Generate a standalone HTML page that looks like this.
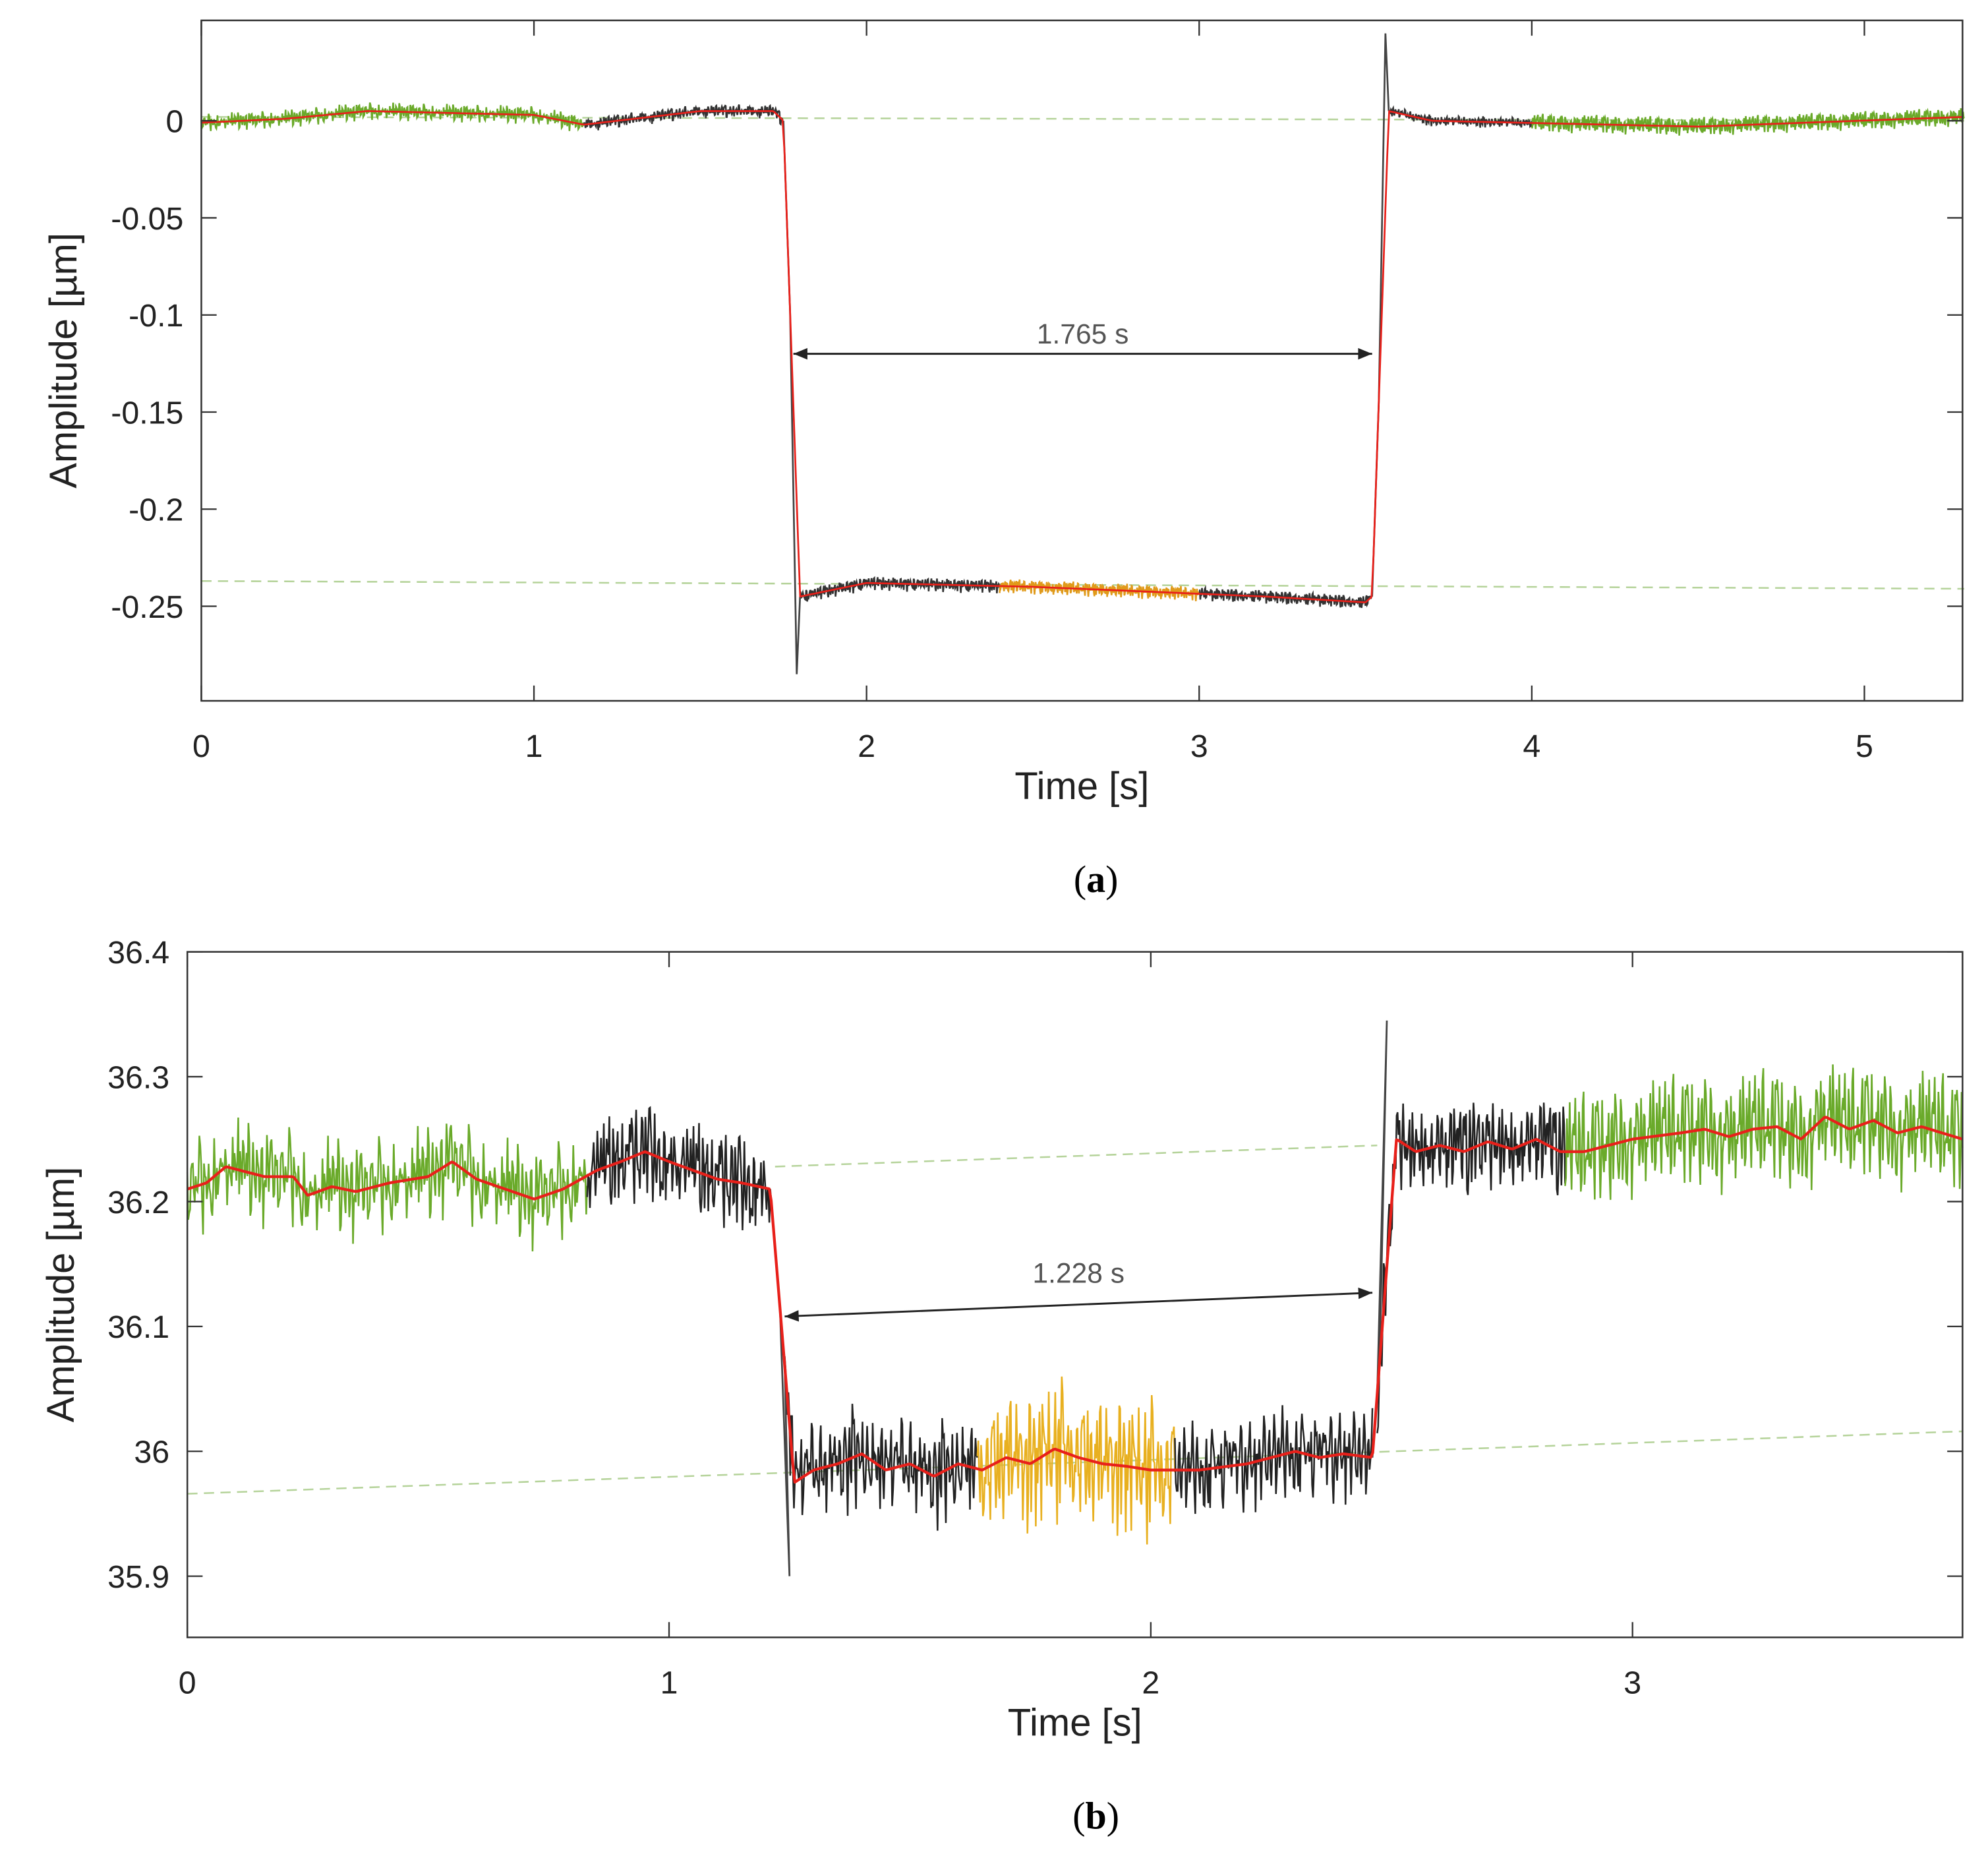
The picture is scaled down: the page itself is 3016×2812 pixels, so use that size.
<!DOCTYPE html>
<html><head><meta charset="utf-8"><style>
html,body{margin:0;padding:0;background:#fff}
svg{display:block}
text{font-family:"Liberation Sans",sans-serif}
</style></head><body>
<svg id="fig" width="3016" height="2812" viewBox="0 0 1560 1455" preserveAspectRatio="none" xmlns="http://www.w3.org/2000/svg">
<rect width="1560" height="1455" fill="#fff"/>
<g id="pa"></g>
<g id="pb"></g>
<text x="860" y="700" text-anchor="middle" font-size="30" style="font-family:'Liberation Serif',serif">(<tspan font-weight="bold">a</tspan>)</text>
<text x="860" y="1435" text-anchor="middle" font-size="30" style="font-family:'Liberation Serif',serif">(<tspan font-weight="bold">b</tspan>)</text>
</svg>
<script>
const noiseTable=[0.3,-0.7,0.9,-0.2,0.5,-0.9,0.1,0.7,-0.4,0.8,-0.6,0.2,-1,0.6,-0.3,0.4,-0.8,1,-0.1,0.5,-0.5,0.9,-0.7,0.3,-0.2,0.6,-0.9,0.1,0.8,-0.4,0.2,-0.6,0.7,-0.3,0.95,-0.85,0.4,-0.1,0.65,-0.75,0.15,0.55,-0.45,0.85,-0.95,0.25,-0.35,0.75,-0.15,0.45,-0.65,0.05,0.9,-0.5,0.35,-0.8,0.6,-0.25,0.7,-0.55,0.2,-0.9,0.5,-0.05,0.8,-0.7,0.3,-0.45,1,-0.6,0.1,0.4,-0.3,0.65,-1,0.55,-0.2,0.75,-0.4,0.15,-0.75,0.9,-0.1,0.35,-0.85,0.6,-0.5,0.25,0.8,-0.65,0.45,-0.15,0.7,-0.35,0.05,-0.95,0.5];

// ---- chart a data ----
const aTicksX=[0,1,2,3,4,5];
const aTicksY=[0,-0.05,-0.1,-0.15,-0.2,-0.25];
const aTickLabelsY=["0","-0.05","-0.1","-0.15","-0.2","-0.25"];
const aLevelT=[0,0.25,0.5,0.75,1,1.15,1.5,1.72,1.75,1.8,2,2.5,3.2,3.5,3.52,3.57,3.7,4.5,5.3];
const aLevelV=[-0.001,0.001,0.005,0.004,0.003,-0.002,0.005,0.005,0.0,-0.245,-0.238,-0.24,-0.245,-0.248,-0.245,0.005,0.0,-0.003,0.002];
const aSegStart=[0,1.15,1.8,2.4,3.0,3.57,4.0];
const aSegEnd=[1.15,1.75,2.4,3.0,3.52,4.0,5.3];
const aSegColor=["#6aaa2a","#333","#333","#e09a1a","#333","#333","#6aaa2a"];
const aSegNoise=[0.005,0.004,0.004,0.004,0.004,0.003,0.005];
const aSpikeT=[1.79,3.56];
const aSpikeV=[-0.285,0.045];
const aDash1=[[0,0.002],[5.3,0.0]];
const aDash2=[[0,-0.237],[5.3,-0.241]];
const aArrow=[[1.78,-0.12],[3.52,-0.12]];
const aArrowLabel="1.765 s";

// ---- chart b data ----
const bTicksX=[0,1,2,3];
const bTicksY=[36.4,36.3,36.2,36.1,36,35.9];
const bTickLabelsY=["36.4","36.3","36.2","36.1","36","35.9"];
const bLevelT=[0,0.04,0.08,0.16,0.22,0.25,0.3,0.35,0.42,0.5,0.55,0.6,0.66,0.72,0.78,0.85,0.9,0.95,1.0,1.05,1.1,1.15,1.21,1.26,1.3,1.35,1.4,1.45,1.5,1.55,1.6,1.65,1.7,1.75,1.8,1.85,1.9,1.95,2.0,2.1,2.2,2.3,2.35,2.4,2.46,2.51,2.55,2.6,2.65,2.7,2.75,2.8,2.85,2.9,3.0,3.1,3.15,3.2,3.25,3.3,3.35,3.4,3.45,3.5,3.55,3.6,3.685];
const bLevelV=[36.21,36.215,36.228,36.22,36.22,36.205,36.212,36.208,36.215,36.22,36.232,36.218,36.21,36.202,36.21,36.225,36.232,36.24,36.232,36.225,36.218,36.215,36.21,35.975,35.985,35.99,35.998,35.985,35.99,35.98,35.99,35.985,35.995,35.99,36.002,35.995,35.99,35.988,35.985,35.985,35.99,36.0,35.995,35.998,35.995,36.25,36.24,36.245,36.24,36.248,36.242,36.25,36.24,36.24,36.25,36.255,36.258,36.252,36.258,36.26,36.25,36.268,36.258,36.265,36.255,36.26,36.25];
const bSegStart=[0,0.83,1.24,1.64,2.05,2.47,2.86];
const bSegEnd=[0.83,1.21,1.64,2.05,2.46,2.86,3.685];
const bSegColor=["#6aaa2a","#222","#222","#e8b020","#222","#222","#6aaa2a"];
const bSegNoise=[0.045,0.045,0.045,0.06,0.045,0.045,0.05];
const bSpikeT=[1.25,2.49];
const bSpikeV=[35.9,36.345];
const bDash1=[[1.22,36.228],[2.47,36.245]];
const bDash2=[[0,35.966],[3.685,36.016]];
const bArrow=[[1.24,36.108],[2.46,36.127]];
const bArrowLabel="1.228 s";

const NS="http://www.w3.org/2000/svg";
function mk(parent,tag,attrs){const e=document.createElementNS(NS,tag);for(const k in attrs)e.setAttribute(k,attrs[k]);parent.appendChild(e);return e;}
function interp(T,V,t){if(t<=T[0])return V[0];for(let i=1;i<T.length;i++){if(t<=T[i]){const f=(t-T[i-1])/(T[i]-T[i-1]);return V[i-1]+f*(V[i]-V[i-1]);}}return V[V.length-1];}

function drawChart(g,cfg){
  const X=v=>cfg.x0+(v-cfg.xmin)/(cfg.xmax-cfg.xmin)*(cfg.x1-cfg.x0);
  const Y=v=>cfg.y1-(v-cfg.ymin)/(cfg.ymax-cfg.ymin)*(cfg.y1-cfg.y0);
  [cfg.dash1,cfg.dash2].forEach((d,i)=>{
    const l=mk(g,'line',{x1:X(d[0][0]),y1:Y(d[0][1]),x2:X(d[1][0]),y2:Y(d[1][1]),stroke:'#b5d39a','stroke-width':1.3,'stroke-dasharray':'8,5'});
    
    
  });
  let k=0;
  for(let s=0;s<cfg.segStart.length;s++){
    const n=Math.max(2,Math.round((cfg.segEnd[s]-cfg.segStart[s])*cfg.rate));
    let p='';
    for(let i=0;i<=n;i++){
      const t=cfg.segStart[s]+(cfg.segEnd[s]-cfg.segStart[s])*i/n;
      const nz=noiseTable[(k*37+i*13)%noiseTable.length]*0.6+noiseTable[(i*7+k)%noiseTable.length]*0.4;
      k++;
      const v=interp(cfg.levT,cfg.levV,t)+nz*cfg.segNoise[s];
      p+=(i?'L':'M')+X(t).toFixed(2)+','+Y(v).toFixed(2);
    }
    const e=mk(g,'path',{d:p,fill:'none',stroke:cfg.segColor[s],'stroke-width':cfg.sw});
    
    
  }
  const tr=[[cfg.segEnd[1],cfg.spikeT[0],cfg.segStart[2]],[cfg.segEnd[4],cfg.spikeT[1],cfg.segStart[5]]];
  tr.forEach((r,i)=>{
    const a=r[0],b=r[2];
    const p='M'+X(a)+','+Y(interp(cfg.levT,cfg.levV,a))+' L'+X((a+r[1])/2)+','+Y(interp(cfg.levT,cfg.levV,(a+r[1])/2))+' L'+X(r[1])+','+Y(cfg.spikeV[i])+' L'+X(b)+','+Y(interp(cfg.levT,cfg.levV,b));
    const e=mk(g,'path',{d:p,fill:'none',stroke:'#444','stroke-width':1.4});
    
    
  });
  let p='';const N=900;
  for(let i=0;i<=N;i++){const t=cfg.xmin+(cfg.xmax-cfg.xmin)*i/N;p+=(i?'L':'M')+X(t).toFixed(2)+','+Y(interp(cfg.levT,cfg.levV,t)).toFixed(2);}
  const red=mk(g,'path',{d:p,fill:'none',stroke:'#e8201a','stroke-width':cfg.redw,'stroke-linejoin':'round'});
  
  
  const ax1=X(cfg.arrow[0][0]),ay1=Y(cfg.arrow[0][1]),ax2=X(cfg.arrow[1][0]),ay2=Y(cfg.arrow[1][1]);
  const ang=Math.atan2(ay2-ay1,ax2-ax1);
  const ar=mk(g,'line',{x1:ax1,y1:ay1,x2:ax2,y2:ay2,stroke:'#222','stroke-width':1.5});
  
  
  [[ax1,ay1,ang],[ax2,ay2,ang+Math.PI]].forEach(h=>{
    const L=11,W=4.5,c=Math.cos(h[2]),s=Math.sin(h[2]);
    const hp=mk(g,'polygon',{points:`${h[0]},${h[1]} ${h[0]+L*c-W*s},${h[1]+L*s+W*c} ${h[0]+L*c+W*s},${h[1]+L*s-W*c}`,fill:'#222'});
    
    
  });
  const lt=mk(g,'text',{x:(ax1+ax2)/2,y:Math.min(ay1,ay2)-8,'text-anchor':'middle','font-size':22,fill:'#555'});
  lt.textContent=cfg.arrowLabel;
  
  
  const fr=mk(g,'rect',{x:cfg.x0,y:cfg.y0,width:cfg.x1-cfg.x0,height:cfg.y1-cfg.y0,fill:'none',stroke:'#333','stroke-width':1.3});
  
  
  cfg.ticksX.forEach(v=>{
    const x=X(v);
    mk(g,'line',{x1:x,y1:cfg.y1,x2:x,y2:cfg.y1-12,stroke:'#333','stroke-width':1.2});
    mk(g,'line',{x1:x,y1:cfg.y0,x2:x,y2:cfg.y0+12,stroke:'#333','stroke-width':1.2});
    const t=mk(g,'text',{x:x,y:cfg.y1+44,'text-anchor':'middle','font-size':25,fill:'#222'});
    t.textContent=String(v);
    
    
  });
  cfg.ticksY.forEach((v,i)=>{
    const y=Y(v);
    mk(g,'line',{x1:cfg.x0,y1:y,x2:cfg.x0+12,y2:y,stroke:'#333','stroke-width':1.2});
    mk(g,'line',{x1:cfg.x1,y1:y,x2:cfg.x1-12,y2:y,stroke:'#333','stroke-width':1.2});
    const t=mk(g,'text',{x:cfg.x0-14,y:y+9,'text-anchor':'end','font-size':25,fill:'#222'});
    t.textContent=cfg.tickLabelsY[i];
    
    
  });
  const xt=mk(g,'text',{x:(cfg.x0+cfg.x1)/2,y:cfg.y1+77,'text-anchor':'middle','font-size':30,fill:'#222'});
  xt.textContent='Time [s]';
  
  
  const cy=(cfg.y0+cfg.y1)/2;
  const yt=mk(g,'text',{x:cfg.ytx,y:cy,'text-anchor':'middle','font-size':30,fill:'#222',transform:`rotate(-90 ${cfg.ytx} ${cy})`});
  yt.textContent='Amplitude [µm]';
  
  
}

drawChart(document.getElementById('pa'),{x0:158,x1:1540,y0:16,y1:550,xmin:0,xmax:5.295,ymin:-0.2987,ymax:0.0517,
  ticksX:aTicksX,ticksY:aTicksY,tickLabelsY:aTickLabelsY,levT:aLevelT,levV:aLevelV,segStart:aSegStart,segEnd:aSegEnd,
  segColor:aSegColor,segNoise:aSegNoise,spikeT:aSpikeT,spikeV:aSpikeV,dash1:aDash1,dash2:aDash2,arrow:aArrow,arrowLabel:aArrowLabel,
  rate:600,sw:1.3,redw:1.4,ytx:60});
drawChart(document.getElementById('pb'),{x0:147,x1:1540,y0:747,y1:1285,xmin:0,xmax:3.685,ymin:35.851,ymax:36.4,
  ticksX:bTicksX,ticksY:bTicksY,tickLabelsY:bTickLabelsY,levT:bLevelT,levV:bLevelV,segStart:bSegStart,segEnd:bSegEnd,
  segColor:bSegColor,segNoise:bSegNoise,spikeT:bSpikeT,spikeV:bSpikeV,dash1:bDash1,dash2:bDash2,arrow:bArrow,arrowLabel:bArrowLabel,
  rate:520,sw:1.3,redw:2.2,ytx:58});
</script>
</body></html>
